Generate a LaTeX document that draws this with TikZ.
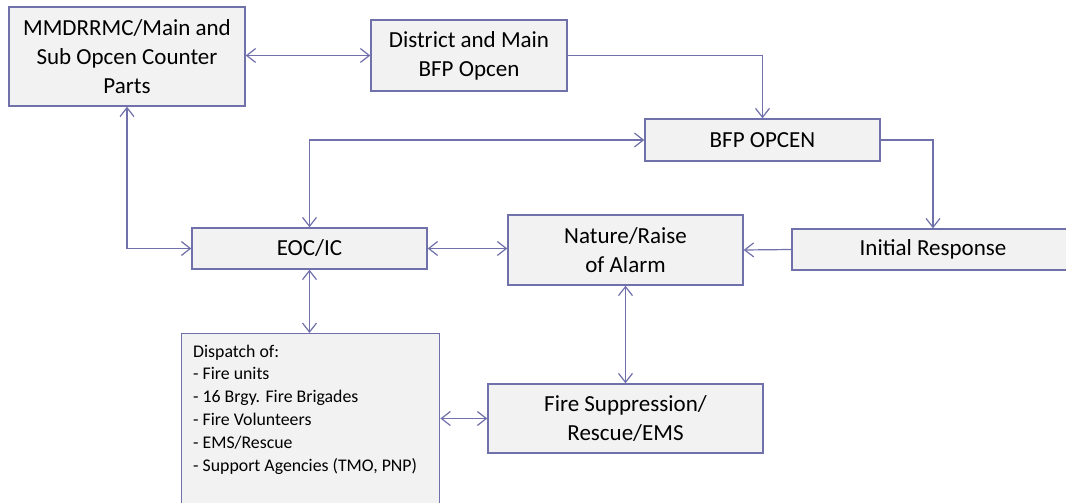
\documentclass[tikz,border=0pt]{standalone}
\usepackage{fontspec}
\setmainfont{Carlito}
\usetikzlibrary{arrows.meta}
\definecolor{lineC}{RGB}{112,112,170}
\definecolor{fillC}{RGB}{242,242,242}
\tikzset{
  myb/.tip={Straight Barb[length=9pt,width=14pt,line width=1.2pt]},
  box/.style={draw=lineC, fill=fillC, line width=1.4pt, inner sep=0pt, align=center,
    font=\fontsize{23}{29}\selectfont},
  conn/.style={draw=lineC, line width=1.2pt},
  both/.style={conn, myb-myb},
  one/.style={conn, -myb}
}
\begin{document}
\begin{tikzpicture}[x=1pt,y=-1pt]
\useasboundingbox (0,0) rectangle (1066,503);
\clip (0,0) rectangle (1066,503);
\fill[white] (0,0) rectangle (1066,503);
% boxes
\node[box, minimum width=236, minimum height=99] (mm) at (127,56.5) {MMDRRMC/Main and\\Sub Opcen Counter\\Parts};
\node[box, minimum width=196, minimum height=71] (dist) at (469,55.5) {District and Main\\BFP Opcen};
\node[box, minimum width=235, minimum height=42] (bfp) at (762.5,140) {BFP OPCEN};
\node[box, minimum width=235, minimum height=41] (eoc) at (309.5,248.5) {EOC/IC};
\node[box, minimum width=235, minimum height=70] (nat) at (625.5,250) {Nature/Raise\\of Alarm};
\node[box, minimum width=282, minimum height=41] (ir) at (933,249.5) {Initial Response};
\node[box, minimum width=275, minimum height=69] (fs) at (625.5,418.5) {Fire Suppression/\\Rescue/EMS};
\node[box, anchor=north west, minimum width=258, minimum height=190] (disp) at (181,333) {};
\node[anchor=north west, inner sep=0pt, align=left, font=\fontsize{17.8}{22.9}\selectfont] (disptext) at (193,344.5)
  {Dispatch of:\\- Fire units\\- 16 Brgy. Fire Brigades\\- Fire Volunteers\\- EMS/Rescue\\- Support Agencies (TMO, PNP)};
% connectors
\draw[both] (dist.west -| mm.east) -- (dist.west);
\draw[one] (dist.east) -| (bfp.north);
\draw[both] (eoc.north) |- (bfp.west);
\draw[one] (bfp.east) -| (ir.north);
\draw[one] (ir.west) -- (nat.east);
\draw[both] (eoc.east) -- (eoc.east -| nat.west);
\draw[both] (nat.south) -- (fs.north);
\draw[both] (eoc.south) -- (eoc.south |- disp.north);
\draw[both] (fs.west -| disp.east) -- (fs.west);
\draw[both] (mm.south) |- (eoc.west);
\end{tikzpicture}
\end{document}
